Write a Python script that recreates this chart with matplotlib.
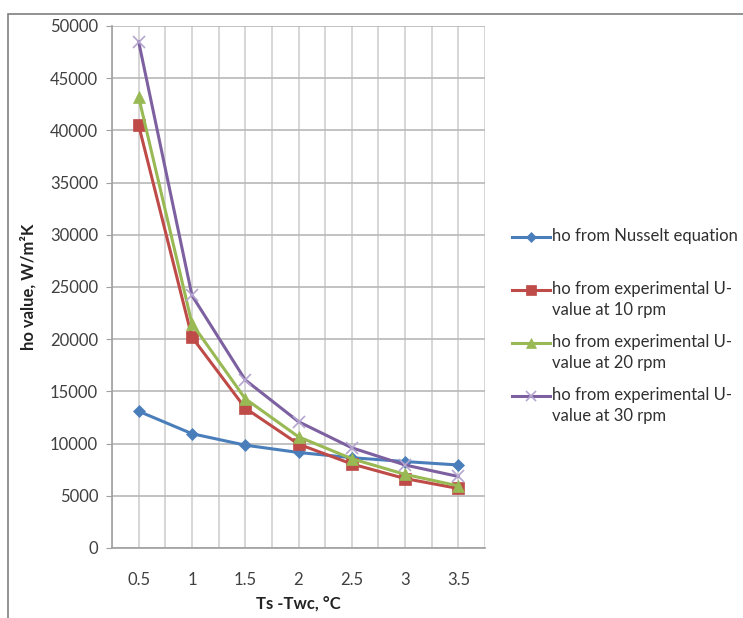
import matplotlib
matplotlib.use("Agg")
import matplotlib.pyplot as plt
from matplotlib.lines import Line2D
from matplotlib.patches import Rectangle

plt.rcParams['font.family'] = ['Lato', 'DejaVu Sans']

categories = ["0.5", "1", "1.5", "2", "2.5", "3", "3.5"]
nusselt = [13100, 10950, 9850, 9150, 8650, 8280, 7950]
rpm10 = [40500, 20200, 13400, 9950, 8050, 6650, 5700]
rpm20 = [43200, 21500, 14300, 10650, 8550, 7050, 5950]
rpm30 = [48500, 24200, 16100, 12100, 9600, 7950, 6850]
labels = ["ho from Nusselt equation",
          "ho from experimental U-\nvalue at 10 rpm",
          "ho from experimental U-\nvalue at 20 rpm",
          "ho from experimental U-\nvalue at 30 rpm"]
yticks = [0, 5000, 10000, 15000, 20000, 25000, 30000, 35000, 40000, 45000, 50000]

W, H = 743, 618
fig = plt.figure(figsize=(W / 100, H / 100), dpi=100)

# outer frame
fig.patches.append(Rectangle((8 / W, -0.1), 1.2, (618 - 14) / H + 0.1, transform=fig.transFigure,
                             fill=False, edgecolor='#7f7f7f', linewidth=1.2))

ax = fig.add_axes([112 / W, (618 - 548) / H, (485 - 112) / W, (548 - 26) / H])

x = list(range(len(categories)))
series = [
    (nusselt, '#4a7ebb', '#4a7ebb', 'D', 6),
    (rpm10, '#be4b48', '#be4b48', 's', 8),
    (rpm20, '#98b954', '#98b954', '^', 8),
    (rpm30, '#7d60a0', '#b4a6d0', 'x', 8),
]
for vals, lc, mc, mk, ms in series:
    ax.plot(x, vals, color=lc, linewidth=2.2, marker=mk, markersize=ms,
            markerfacecolor=mc, markeredgecolor=mc, markeredgewidth=1.2 if mk == 'x' else 0.5)

ax.set_xlim(-0.5, len(categories) - 0.5)
ax.set_ylim(0, 50000)
ax.set_yticks(yticks)
ax.set_yticklabels([str(v) for v in yticks])
ax.set_xticks(x)
ax.set_xticklabels(categories)
ax.set_xticks([i - 0.5 for i in range(len(categories) + 1)], minor=True)

ax.grid(True, which='both', axis='x', color='#d0d0d0', linewidth=1.2)
ax.grid(True, which='major', axis='y', color='#b8b8b8', linewidth=1.2)
ax.set_axisbelow(True)

for s in ['top', 'right']:
    ax.spines[s].set_visible(False)
for s in ['left', 'bottom']:
    ax.spines[s].set_color('#a0a0a0')
    ax.spines[s].set_linewidth(1.2)

ax.tick_params(axis='y', which='major', length=4, color='#a0a0a0', labelsize=12,
               labelcolor='#404040', pad=6)
ax.tick_params(axis='x', which='major', length=0, labelsize=12, labelcolor='#404040', pad=17)
ax.tick_params(axis='x', which='minor', length=0)

ax.set_ylabel("ho value, W/m\u00b2K", fontsize=12, fontweight='bold', color='#222222', labelpad=10)
fig.text((112 + 485) / 2 / W, 1 - 604 / H, "Ts -Twc, \u00b0C", fontsize=12, fontweight='bold',
         color='#222222', ha='center', va='center')

# manual legend
leg_y = [237, 290, 343, 396]
for (vals, lc, mc, mk, ms), lab, yy in zip(series, labels, leg_y):
    yf = 1 - yy / H
    fig.add_artist(Line2D([512 / W, 550 / W], [yf, yf], transform=fig.transFigure,
                          color=lc, linewidth=2.2))
    fig.add_artist(Line2D([531 / W], [yf], transform=fig.transFigure, marker=mk,
                          markersize=ms * 0.9, color=mc, markerfacecolor=mc, markeredgecolor=mc,
                          linestyle='none', markeredgewidth=1.2 if mk == 'x' else 0.5))
    fig.text(552 / W, yf + 9 / H, lab, fontsize=12, color='#303030', va='top', ha='left',
             linespacing=1.35)

fig.savefig("out.png", dpi=100)
